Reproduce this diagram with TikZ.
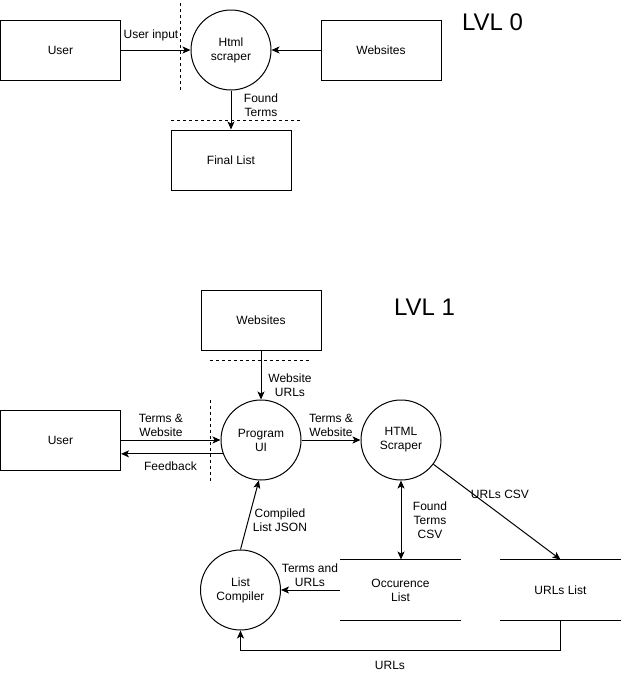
\documentclass[tikz,border=0pt]{standalone}
\usepackage{fontspec}
\setmainfont{Liberation Sans}
\usetikzlibrary{arrows.meta}

\begin{document}
\begin{tikzpicture}[x=1pt, y=-1pt, line width=1pt,
    every node/.style={font=\fontsize{12}{14}\selectfont, align=center, inner sep=0pt},
    box/.style={draw, minimum width=120pt, minimum height=60pt},
    proc/.style={draw, circle, minimum size=80pt},
    store/.style={minimum width=120pt, minimum height=60pt},
    flow/.style={-{Stealth[length=8pt, width=7pt, inset=2pt]}},
    twoway/.style={{Stealth[length=8pt, width=7pt, inset=2pt]}-{Stealth[length=8pt, width=7pt, inset=2pt]}},
    bound/.style={dash pattern=on 3pt off 3pt},
    lvl/.style={font=\fontsize{24}{28}\selectfont, anchor=base}]
  \useasboundingbox (0,0) rectangle (621,681);

    %LVL 0
    \node [box] (user0) at (60.5,50){User};
    \node [proc] (html0) at (231,50){Html\\scraper};
    \node [box] (web0) at (381,50){Websites};
    \node [box] (list0) at (231,160){Final List};
    \node [lvl] (lvl0) at (492.5,30){LVL 0};

    \draw[flow] (user0) -- (html0);
    \draw[flow] (web0) -- (html0);
    \draw[flow] (html0) -- (list0);
    \node (uin0) at (151,35){User input};
    \node (fnd0) at (261,105){Found\\Terms};

    \draw[bound] (180.5,3) -- (180.5,90);
    \draw[bound] (171,120) -- (300,120);

    %LVL 1
    \node [box] (web1) at (261,320){Websites};
    \node [lvl] (lvl1) at (424.5,315){LVL 1};
    \node [box] (user1) at (60.5,440){User};
    \node [proc] (ui1) at (261,440){Program\\UI};
    \node [proc] (scr1) at (401,440){HTML\\Scraper};
    \node [proc] (lc1) at (240.5,590){List\\Compiler};
    \node [store] (occ1) at (400.5,590){Occurence\\List};
    \node [store] (urls1) at (560.5,590){URLs List};
    \draw (occ1.north west) -- (occ1.north east) (occ1.south west) -- (occ1.south east);
    \draw (urls1.north west) -- (urls1.north east) (urls1.south west) -- (urls1.south east);

    \draw[flow] (web1) -- (ui1);
    \draw[flow] (user1) -- (ui1);
    \draw[flow] (ui1.200) -- (ui1.200 -| user1.east);
    \draw[flow] (ui1) -- (scr1);
    \draw[flow] (lc1.north) -- (ui1.267);
    \draw[twoway] (scr1.south) -- (scr1.south |- occ1.north);
    \draw[flow] (occ1) -- (lc1);
    \draw[flow] (scr1) -- (urls1.north);
    \draw[flow] (urls1.south) -- (urls1.south |- 0,650) -| (lc1.south);

    \node (wurl1) at (290,385){Website\\URLs};
    \node (tw1) at (161,425){Terms \&\\Website};
    \node (fb1) at (170.5,466){Feedback};
    \node (tw2) at (331,425){Terms \&\\Website};
    \node (cmp1) at (280,520){Compiled\\List JSON};
    \node (fts1) at (430,520){Found\\Terms\\CSV};
    \node (tu1) at (310,575){Terms and\\URLs};
    \node (ucsv1) at (500,494){URLs CSV};
    \node (url1) at (390,665){URLs};

    \draw[bound] (210,360) -- (311,360);
    \draw[bound] (210,400) -- (210,482);
\end{tikzpicture}
\end{document}
